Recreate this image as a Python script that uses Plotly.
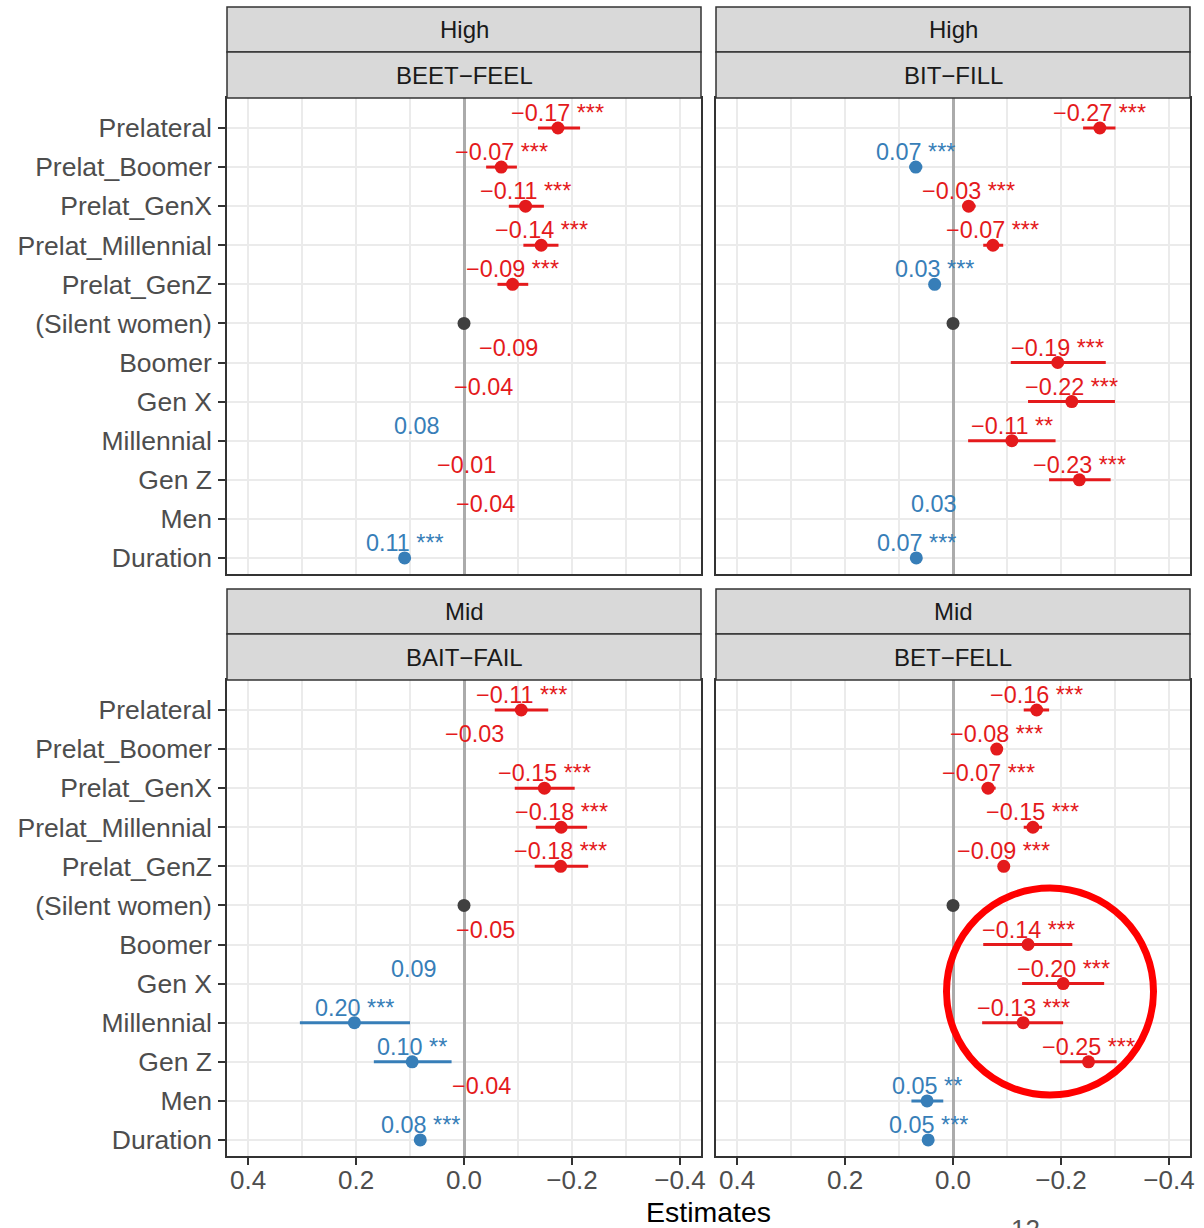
import plotly.graph_objects as go

W, H = 1204, 1228

terms = ["Prelateral", "Prelat_Boomer", "Prelat_GenX", "Prelat_Millennial", "Prelat_GenZ",
         "(Silent women)", "Boomer", "Gen X", "Millennial", "Gen Z", "Men", "Duration"]
ref_term = "(Silent women)"

strip_group = ["High", "High", "Mid", "Mid"]
strip_pair = ["BEET\u2212FEEL", "BIT\u2212FILL", "BAIT\u2212FAIL", "BET\u2212FELL"]

# Panel A: High / BEET-FEEL
est_a = [-0.174, -0.069, -0.114, -0.143, -0.090, 0.0, -0.083, -0.037, 0.087, -0.004, -0.039, 0.110]
lo_a = [-0.215, -0.098, -0.148, -0.175, -0.119, None, None, None, None, None, None, 0.104]
hi_a = [-0.137, -0.041, -0.083, -0.110, -0.062, None, None, None, None, None, None, 0.117]
shown_a = [-0.17, -0.07, -0.11, -0.14, -0.09, None, -0.09, -0.04, 0.08, -0.01, -0.04, 0.11]
stars_a = ["***", "***", "***", "***", "***", "", "", "", "", "", "", "***"]

# Panel B: High / BIT-FILL
est_b = [-0.272, 0.069, -0.029, -0.074, 0.034, 0.0, -0.194, -0.220, -0.109, -0.234, 0.035, 0.068]
lo_b = [-0.301, 0.057, -0.042, -0.093, 0.024, None, -0.283, -0.300, -0.190, -0.292, None, 0.061]
hi_b = [-0.241, 0.081, -0.017, -0.056, 0.044, None, -0.107, -0.139, -0.028, -0.178, None, 0.075]
shown_b = [-0.27, 0.07, -0.03, -0.07, 0.03, None, -0.19, -0.22, -0.11, -0.23, 0.03, 0.07]
stars_b = ["***", "***", "***", "***", "***", "", "***", "***", "**", "***", "", "***"]

# Panel C: Mid / BAIT-FAIL
est_c = [-0.106, -0.020, -0.149, -0.180, -0.179, 0.0, -0.040, 0.092, 0.203, 0.096, -0.032, 0.081]
lo_c = [-0.156, None, -0.205, -0.228, -0.230, None, None, None, 0.100, 0.023, None, 0.074]
hi_c = [-0.057, None, -0.094, -0.133, -0.131, None, None, None, 0.304, 0.167, None, 0.088]
shown_c = [-0.11, -0.03, -0.15, -0.18, -0.18, None, -0.05, 0.09, 0.20, 0.10, -0.04, 0.08]
stars_c = ["***", "", "***", "***", "***", "", "", "", "***", "**", "", "***"]

# Panel D: Mid / BET-FELL
est_d = [-0.155, -0.081, -0.065, -0.148, -0.094, 0.0, -0.139, -0.204, -0.130, -0.251, 0.048, 0.046]
lo_d = [-0.178, -0.091, -0.079, -0.165, -0.102, None, -0.221, -0.280, -0.204, -0.303, 0.018, 0.040]
hi_d = [-0.131, -0.071, -0.053, -0.131, -0.086, None, -0.056, -0.128, -0.054, -0.198, 0.077, 0.052]
shown_d = [-0.16, -0.08, -0.07, -0.15, -0.09, None, -0.14, -0.20, -0.13, -0.25, 0.05, 0.05]
stars_d = ["***", "***", "***", "***", "***", "", "***", "***", "***", "***", "**", "***"]

x_ticks = [0.4, 0.2, 0.0, -0.2, -0.4]
x_tick_text = ["0.4", "0.2", "0.0", "\u22120.2", "\u22120.4"]
x_minor = [0.3, 0.1, -0.1, -0.3]

panels = [
    (est_a, lo_a, hi_a, shown_a, stars_a),
    (est_b, lo_b, hi_b, shown_b, stars_b),
    (est_c, lo_c, hi_c, shown_c, stars_c),
    (est_d, lo_d, hi_d, shown_d, stars_d),
]

RED = "#E41A1C"
BLUE = "#377EB8"
REFC = "#404040"
FONT = "Liberation Sans, Arial, Helvetica, sans-serif"

# panel pixel boxes of plotting area
col_px = [(227, 701), (716, 1190)]
row_px = [(98, 574), (680, 1156)]
strip_px = [((7, 52), (52, 98)), ((589, 634), (634, 680))]


def px(x):
    return x / W


def py(y):
    return 1 - y / H


def fmt(v):
    s = f"{abs(v):.2f}"
    return ("\u2212" + s) if v < 0 else s


fig = go.Figure()
annotations = []
shapes = []
layout_axes = {}

for k, (est, lo, hi, shown, stars) in enumerate(panels):
    r, c = divmod(k, 2)
    n = k + 1
    xa = "x" if n == 1 else f"x{n}"
    ya = "y" if n == 1 else f"y{n}"
    yidx = [terms.index(t) for t in terms]

    # error bars
    for i, t in enumerate(terms):
        if stars[i] and lo[i] is not None:
            col = RED if est[i] < 0 else BLUE
            fig.add_trace(go.Scatter(x=[lo[i], hi[i]], y=[yidx[i], yidx[i]], mode="lines",
                                     line=dict(color=col, width=3), xaxis=xa, yaxis=ya,
                                     showlegend=False, hoverinfo="skip"))
    # points
    mx, my, mc = [], [], []
    for i, t in enumerate(terms):
        if t == ref_term:
            mx.append(est[i]); my.append(yidx[i]); mc.append(REFC)
        elif stars[i]:
            mx.append(est[i]); my.append(yidx[i]); mc.append(RED if est[i] < 0 else BLUE)
    fig.add_trace(go.Scatter(x=mx, y=my, mode="markers", marker=dict(color=mc, size=13),
                             xaxis=xa, yaxis=ya, showlegend=False, hoverinfo="skip"))
    # value labels
    for i, t in enumerate(terms):
        if shown[i] is None:
            continue
        txt = fmt(shown[i]) + ((" " + stars[i]) if stars[i] else "")
        annotations.append(dict(x=est[i], y=yidx[i], xref=xa, yref=ya, text=txt, showarrow=False,
                                yshift=15, xanchor="center", yanchor="middle",
                                font=dict(family=FONT, size=23.4, color=RED if shown[i] < 0 else BLUE)))

    x0p, x1p = col_px[c]
    y0p, y1p = row_px[r]
    axkey_x = "xaxis" if n == 1 else f"xaxis{n}"
    axkey_y = "yaxis" if n == 1 else f"yaxis{n}"
    layout_axes[axkey_x] = dict(
        domain=[px(x0p), px(x1p)], anchor=ya, range=[0.439, -0.439],
        tickmode="array", tickvals=x_ticks, ticktext=x_tick_text,
        showticklabels=(r == 1), ticks="outside" if r == 1 else "", ticklen=7, tickwidth=1.5,
        tickcolor="#333333", tickfont=dict(family=FONT, size=26, color="#4D4D4D"),
        ticklabelstandoff=-7,
        showgrid=True, gridcolor="#EBEBEB", gridwidth=1.5,
        minor=dict(tickvals=x_minor, showgrid=True, gridcolor="#EBEBEB", gridwidth=1.5, ticks=""),
        zeroline=True, zerolinecolor="#ABABAB", zerolinewidth=2.5,
        showline=True, mirror=True, linecolor="#333333", linewidth=1.5, automargin=False,
        fixedrange=True,
    )
    layout_axes[axkey_y] = dict(
        domain=[py(y1p), py(y0p)], anchor=xa, range=[11.41, -0.767],
        tickmode="array", tickvals=list(range(len(terms))), ticktext=terms,
        showticklabels=(c == 0), ticks="outside" if c == 0 else "", ticklen=7, tickwidth=1.5,
        tickcolor="#333333", tickfont=dict(family=FONT, size=26.5, color="#4D4D4D"),
        ticklabelstandoff=1,
        showgrid=True, gridcolor="#EBEBEB", gridwidth=1.5, zeroline=False,
        showline=True, mirror=True, linecolor="#333333", linewidth=1.5, automargin=False,
        fixedrange=True,
    )

    # strips
    for j, (sy0, sy1) in enumerate(strip_px[r]):
        shapes.append(dict(type="rect", xref="paper", yref="paper",
                           x0=px(x0p), x1=px(x1p), y0=py(sy1), y1=py(sy0),
                           fillcolor="#D9D9D9", line=dict(color="#333333", width=1.5), layer="above"))
        txt = strip_group[k] if j == 0 else strip_pair[k]
        annotations.append(dict(x=px((x0p + x1p) / 2), y=py((sy0 + sy1) / 2), xref="paper", yref="paper",
                                text=txt, showarrow=False, xanchor="center", yanchor="middle",
                                font=dict(family=FONT, size=24, color="#1A1A1A")))

# highlight circle
shapes.append(dict(type="circle", xref="paper", yref="paper",
                   x0=px(946.5), x1=px(1153.5), y0=py(1095), y1=py(888),
                   line=dict(color="#FF0000", width=7), fillcolor="rgba(0,0,0,0)", layer="above"))

annotations.append(dict(x=px(708), y=py(1212), xref="paper", yref="paper", text="Estimates",
                        showarrow=False, xanchor="center", yanchor="middle",
                        font=dict(family=FONT, size=28.5, color="#000000")))
annotations.append(dict(x=px(1025), y=py(1212), xref="paper", yref="paper", text="12",
                        showarrow=False, xanchor="center", yanchor="top",
                        font=dict(family=FONT, size=26, color="#555555")))

fig.update_layout(
    template="none", width=W, height=H, margin=dict(l=0, r=0, t=0, b=0, pad=0),
    paper_bgcolor="white", plot_bgcolor="white", showlegend=False,
    annotations=annotations, shapes=shapes, **layout_axes,
)

fig.write_html("out.html", config={"displayModeBar": False},
               post_script="document.body.style.margin='0';document.body.style.overflow='hidden';")
